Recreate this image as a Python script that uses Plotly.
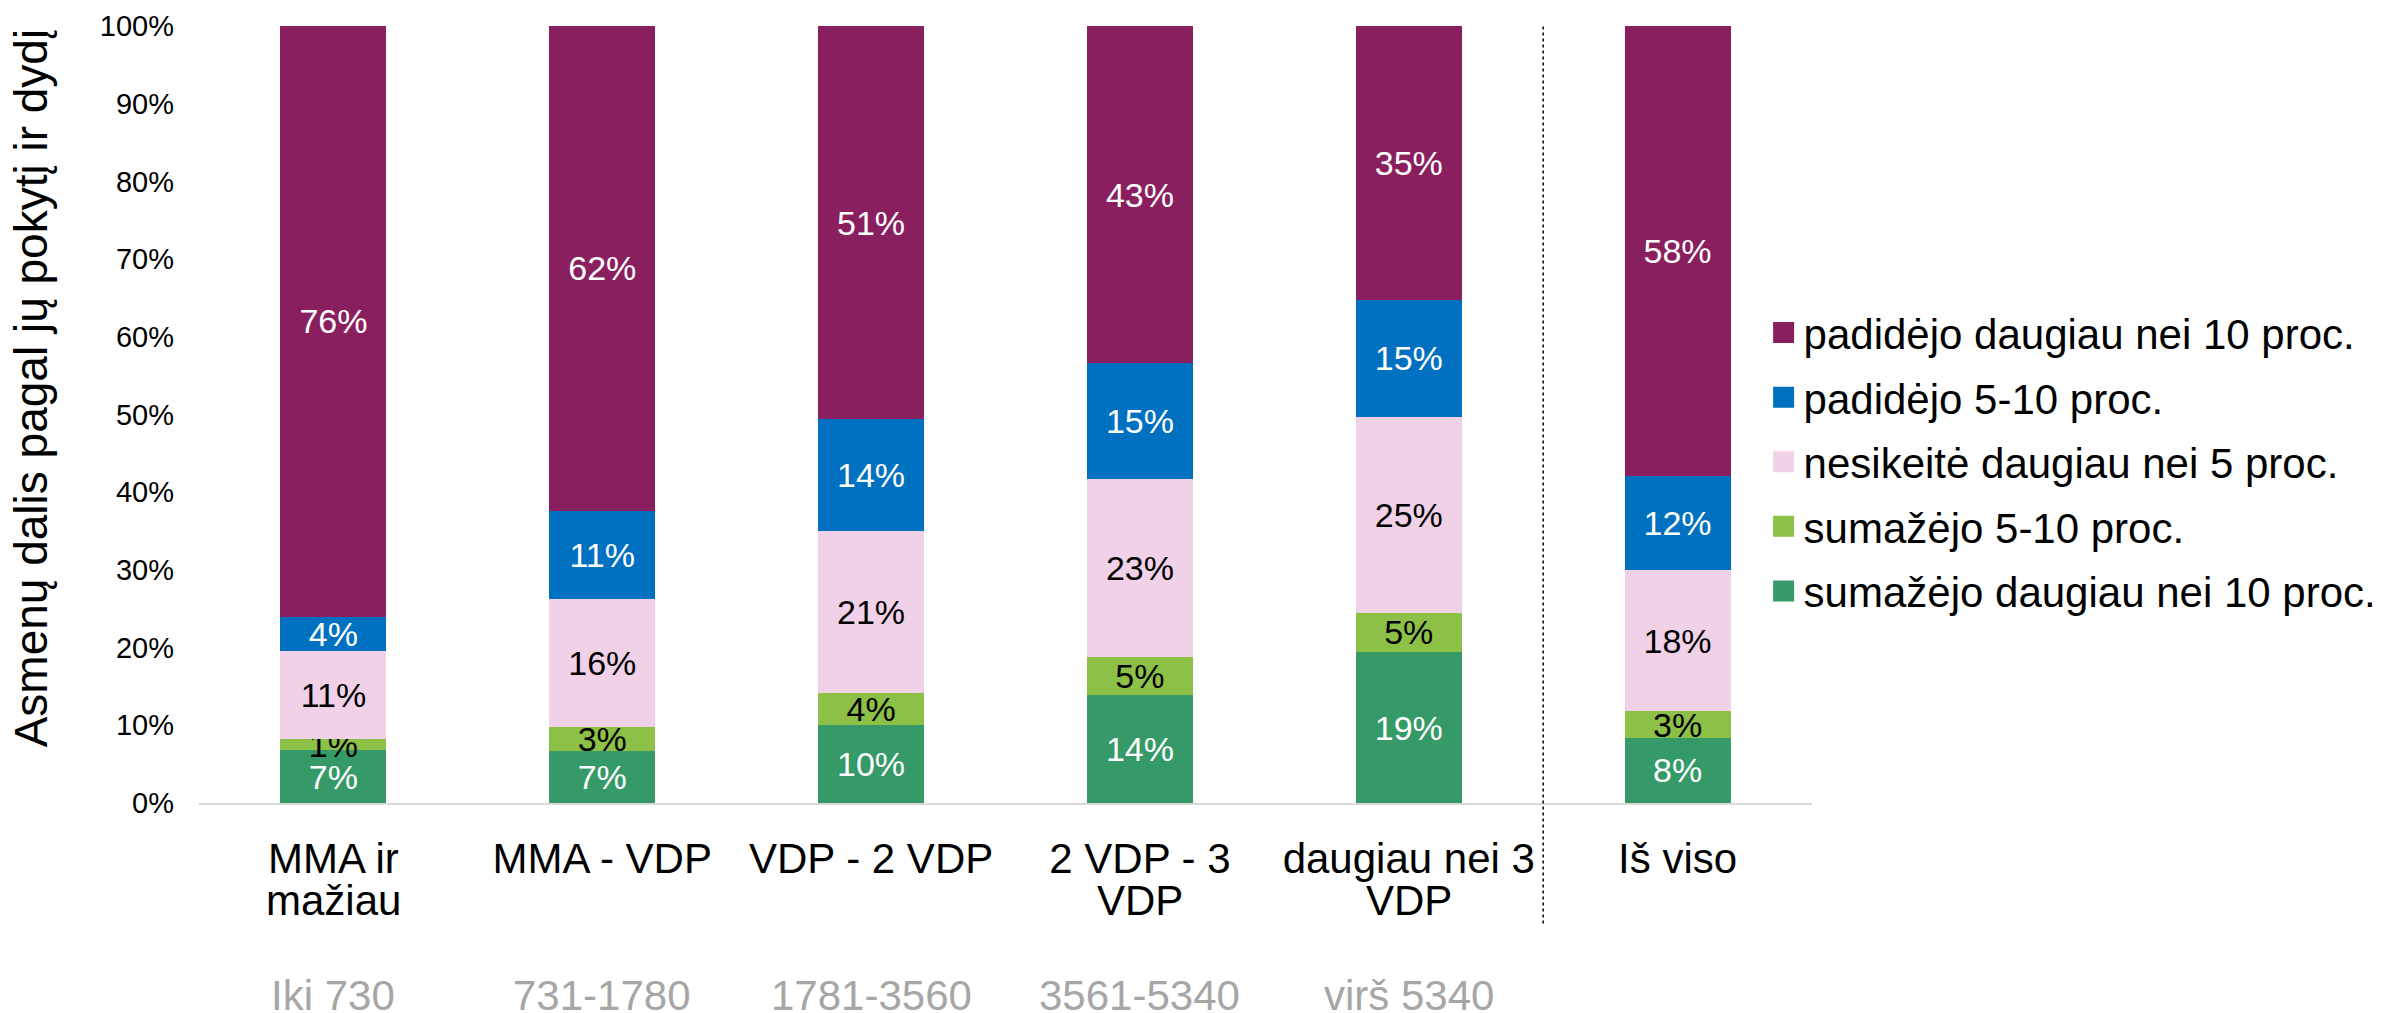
import plotly.graph_objects as go

# ---- data ----
categories = ["MMA ir mažiau", "MMA - VDP", "VDP - 2 VDP", "2 VDP - 3 VDP",
              "daugiau nei 3 VDP", "Iš viso"]
label_line1 = ["MMA ir", "MMA - VDP", "VDP - 2 VDP", "2 VDP - 3", "daugiau nei 3", "Iš viso"]
label_line2 = ["mažiau", "", "", "VDP", "VDP", ""]
income_ranges = ["Iki 730", "731-1780", "1781-3560", "3561-5340", "virš 5340", ""]

series_names = [
    "sumažėjo daugiau nei 10 proc.",
    "sumažėjo 5-10 proc.",
    "nesikeitė daugiau nei 5 proc.",
    "padidėjo 5-10 proc.",
    "padidėjo daugiau nei 10 proc.",
]
dec_over_10 = [6.8, 6.7, 10.0, 13.9, 19.4, 8.4]
dec_5_10 = [1.4, 3.1, 4.2, 4.9, 5.1, 3.4]
unchanged = [11.4, 16.4, 20.8, 22.9, 25.2, 18.2]
inc_5_10 = [4.4, 11.4, 14.4, 14.9, 15.1, 12.1]
inc_over_10 = [76.0, 62.4, 50.6, 43.4, 35.2, 57.9]

y_tick_values = [0, 10, 20, 30, 40, 50, 60, 70, 80, 90, 100]
y_tick_labels = [f"{v}%" for v in y_tick_values]
y_title = "Asmenų dalis pagal jų pokytį ir dydį"

# ---- styles ----
colors = ["#359A67", "#8DC046", "#F1D1E8", "#0070C0", "#8A1F5F"]
text_colors = ["white", "black", "black", "white", "white"]
FONT = "Liberation Sans, Arial, sans-serif"

series_values = [dec_over_10, dec_5_10, unchanged, inc_5_10, inc_over_10]

fig = go.Figure()
for name, vals, col, tcol in zip(series_names, series_values, colors, text_colors):
    fig.add_trace(go.Bar(
        x=categories, y=vals, name=name,
        marker=dict(color=col, line=dict(width=0)),
        text=[f"{round(v)}%" for v in vals],
        textposition="inside", insidetextanchor="middle", textangle=0,
        constraintext="none",
        textfont=dict(color=tcol, size=34, family=FONT),
        showlegend=False, hoverinfo="skip",
    ))

# legend entries (top to bottom)
for i in range(len(series_names) - 1, -1, -1):
    fig.add_trace(go.Scatter(
        x=[None], y=[None], mode="markers", name=series_names[i],
        legendgroup=f"g{i}",
        marker=dict(symbol="square", size=22, color=colors[i],
                    line=dict(width=5, color=colors[i])),
    ))

# separator before the total column
fig.add_shape(type="line", xref="x", yref="paper", x0=4.5, x1=4.5, y0=-0.155, y1=1.0,
              line=dict(color="black", width=1.5, dash="dot"))

# second lines of category labels and income range labels
for cat, l2, rng in zip(categories, label_line2, income_ranges):
    if l2:
        fig.add_annotation(x=cat, xref="x", y=-0.126, yref="paper", text=l2,
                           showarrow=False, yanchor="middle",
                           font=dict(size=42, color="black", family=FONT))
    if rng:
        fig.add_annotation(x=cat, xref="x", y=-0.248, yref="paper", text=rng,
                           showarrow=False, yanchor="middle",
                           font=dict(size=42, color="#A6A6A6", family=FONT))

# y-axis title
fig.add_annotation(x=-0.104, xref="paper", y=0.534, yref="paper", text=y_title,
                   textangle=-90, showarrow=False, xanchor="center", yanchor="middle",
                   font=dict(size=46, color="black", family=FONT))

fig.update_layout(
    width=2376, height=1005,
    barmode="stack", bargap=0.606,
    paper_bgcolor="white", plot_bgcolor="white",
    margin=dict(l=191, r=572, t=18, b=210, autoexpand=False),
    font=dict(family=FONT, color="black"),
    uniformtext=dict(minsize=34, mode="show"),
    legend=dict(
        x=0.970, xanchor="left", y=0.649, yanchor="top",
        traceorder="grouped", tracegroupgap=7, itemsizing="trace",
        font=dict(size=42, family=FONT, color="black"),
        bgcolor="rgba(0,0,0,0)",
    ),
    xaxis=dict(
        type="category", showline=True, linecolor="#D9D9D9", linewidth=2,
        ticks="", showgrid=False, ticklabelstandoff=18, automargin=False,
        tickvals=categories, ticktext=label_line1,
        tickfont=dict(size=42, family=FONT, color="black"),
    ),
    yaxis=dict(
        range=[0, 100], tickvals=y_tick_values, ticktext=y_tick_labels,
        showgrid=False, zeroline=False, showline=False, ticks="",
        ticklabelstandoff=24, automargin=False,
        tickfont=dict(size=29, family=FONT, color="black"),
    ),
)

fig.write_html("out.html")
